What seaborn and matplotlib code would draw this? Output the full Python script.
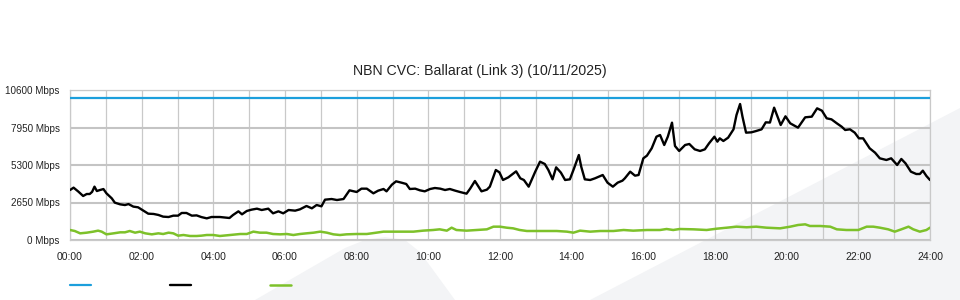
import numpy as np
import matplotlib
matplotlib.use("Agg")
import matplotlib.pyplot as plt
import seaborn as sns
from matplotlib.patches import Polygon

# ---------------- data ----------------
title = "NBN CVC: Ballarat (Link 3) (10/11/2025)"

capacity_min = [0, 1440]
capacity_mbps = [10000, 10000]

down_min = [0, 6, 14, 22, 28, 33, 37, 41, 45, 50, 56, 61, 70, 75, 84, 92, 98, 106, 114, 123,
            131, 140, 148, 156, 165, 173, 181, 187, 195, 204, 212, 220, 229, 237, 251, 267, 273,
            282, 288, 296, 304, 313, 321, 332, 340, 349, 357, 366, 377, 385, 396, 405, 413, 421,
            427, 438, 447, 458, 468, 480, 488, 497, 508, 516, 525, 530, 539, 546, 555, 563, 569,
            578, 586, 594, 603, 611, 620, 628, 636, 645, 653, 664, 670, 678, 689, 698, 703, 713,
            719, 725, 734, 747, 754, 760, 768, 779, 787, 795, 801, 808, 814, 822, 829, 837, 844,
            852, 856, 862, 871, 879, 892, 900, 909, 917, 925, 929, 938, 946, 952, 960, 966, 974,
            982, 988, 995, 1001, 1008, 1013, 1020, 1030, 1037, 1046, 1055, 1063, 1070, 1079,
            1084, 1088, 1094, 1102, 1111, 1116, 1122, 1126, 1132, 1141, 1149, 1158, 1165, 1172,
            1179, 1190, 1198, 1206, 1219, 1231, 1242, 1251, 1259, 1267, 1275, 1284, 1292, 1298,
            1306, 1314, 1321, 1328, 1339, 1348, 1356, 1367, 1375, 1385, 1392, 1399, 1408, 1417,
            1423, 1428, 1434, 1440]
down_mbps = [3530, 3700, 3420, 3110, 3250, 3250, 3400, 3770, 3460, 3530, 3600, 3300, 2940, 2640,
             2520, 2470, 2540, 2360, 2310, 2070, 1860, 1840, 1770, 1650, 1625, 1720, 1720, 1910,
             1910, 1720, 1740, 1620, 1530, 1625, 1625, 1555, 1767, 2026, 1814, 2050, 2144, 2214,
             2120, 2214, 1885, 2026, 1885, 2120, 2073, 2167, 2403, 2238, 2473, 2379, 2850, 2896,
             2826, 2896, 3510, 3392, 3628, 3628, 3298, 3486, 3604, 3439, 3910, 4146, 4052, 3958,
             3604, 3628, 3510, 3439, 3604, 3675, 3628, 3533, 3604, 3486, 3392, 3274, 3628, 4169,
             3439, 3557, 3769, 4946, 4781, 4240, 4429, 4852, 4358, 4240, 3769, 4829, 5536, 5371,
             4946, 4287, 5135, 4758, 4240, 4287, 5064, 6007, 5182, 4287, 4240, 4358, 4593, 4052,
             3769, 4052, 4193, 4358, 4829, 4546, 4593, 5772, 5960, 6478, 7302, 7420, 6714, 7302,
             8291, 6643, 6290, 6714, 6784, 6407, 6290, 6407, 6831, 7302, 6950, 7184, 6997, 7232,
             7821, 8834, 9611, 8716, 7585, 7609, 7703, 7821, 8315, 8300, 9352, 8127, 8740, 8245,
             7939, 8669, 8716, 9305, 9140, 8598, 8527, 8245, 8009, 7774, 7821, 7585, 7184, 7184,
             6478, 6172, 5772, 5654, 5772, 5300, 5725, 5418, 4829, 4664, 4664, 4899, 4523, 4240]

up_min = [0, 8, 17, 28, 39, 47, 53, 61, 73, 84, 92, 100, 109, 117, 126, 137, 148, 156, 165, 173,
          181, 190, 201, 212, 220, 229, 240, 251, 268, 285, 296, 307, 318, 329, 340, 352, 363,
          374, 385, 396, 408, 419, 430, 441, 452, 463, 480, 497, 513, 525, 541, 558, 575, 591,
          608, 619, 631, 639, 647, 664, 681, 698, 709, 720, 731, 742, 753, 765, 798, 815, 832,
          843, 854, 871, 888, 910, 927, 943, 966, 988, 999, 1010, 1021, 1044, 1066, 1083, 1100,
          1116, 1133, 1149, 1166, 1189, 1206, 1219, 1231, 1239, 1256, 1273, 1284, 1300, 1320,
          1334, 1345, 1356, 1370, 1381, 1392, 1404, 1412, 1423, 1434, 1440]
up_mbps = [707, 636, 471, 518, 590, 660, 590, 400, 471, 542, 542, 636, 518, 590, 471, 400, 471,
           424, 518, 471, 306, 353, 283, 283, 306, 353, 353, 283, 353, 424, 424, 590, 518, 518,
           424, 400, 424, 353, 424, 471, 518, 590, 518, 400, 353, 400, 424, 424, 518, 590, 590,
           590, 590, 660, 707, 754, 660, 871, 707, 660, 707, 754, 942, 942, 871, 824, 707, 636,
           636, 636, 590, 518, 660, 590, 636, 636, 707, 660, 707, 707, 777, 707, 777, 754, 707,
           800, 871, 942, 900, 942, 871, 824, 942, 1060, 1107, 990, 990, 942, 754, 707, 707, 942,
           942, 871, 754, 590, 754, 942, 754, 590, 707, 871]

y_ticks = [0, 2650, 5300, 7950, 10600]
y_tick_labels = [f"{v} Mbps" for v in y_ticks]
x_ticks = list(range(0, 1441, 120))
x_tick_labels = [f"{h:02d}:00" for h in range(0, 25, 2)]
x_minor = list(range(60, 1440, 120))

colors = {"capacity": "#1c9fdc", "down": "#000000", "up": "#7dc12a"}

# ---------------- figure ----------------
sns.set_theme(style="white")
plt.rcParams['font.family'] = ['Liberation Sans', 'DejaVu Sans']

W, H = 960, 300
fig = plt.figure(figsize=(9.6, 3.0), dpi=100)
fig.patch.set_facecolor("white")

def fp(pts):
    return [(x / W, 1 - y / H) for x, y in pts]

bg = "#f3f4f6"
for shape in ([(255, 300), (345, 248), (365, 240), (385, 237), (405, 240), (420, 252), (455, 300)],
              [(590, 300), (960, 108), (960, 300)]):
    fig.patches.append(Polygon(fp(shape), closed=True, transform=fig.transFigure,
                               facecolor=bg, edgecolor="none", zorder=-10))

ax = fig.add_axes([70 / W, 60 / H, 860 / W, 150 / H])
ax.set_facecolor("none")

sns.lineplot(x=np.array(capacity_min), y=np.array(capacity_mbps), ax=ax,
             color=colors["capacity"], lw=1.6, zorder=3)
sns.lineplot(x=np.array(down_min), y=np.array(down_mbps), ax=ax,
             color=colors["down"], lw=1.7, zorder=4)
sns.lineplot(x=np.array(up_min), y=np.array(up_mbps), ax=ax,
             color=colors["up"], lw=1.8, zorder=4)

ax.set_xlim(0, 1440)
ax.set_ylim(0, 10600)
ax.set_xlabel("")
ax.set_ylabel("")

ax.set_xticks(x_ticks)
ax.set_xticklabels(x_tick_labels)
ax.set_xticks(x_minor, minor=True)
ax.set_yticks(y_ticks)
ax.set_yticklabels(y_tick_labels)

ax.grid(True, which="both", axis="x", color="#c9c9c9", lw=0.9, zorder=0)
ax.grid(True, which="major", axis="y", color="#c4c4c4", lw=1.5, zorder=0)
ax.set_axisbelow(True)

ax.tick_params(axis="x", which="major", length=4.5, width=0.9, color="#c0c0c0",
               labelsize=7.5, labelcolor="#222222", pad=4.5)
ax.tick_params(axis="x", which="minor", length=0)
ax.tick_params(axis="y", which="both", length=0, labelsize=7.1, labelcolor="#222222", pad=7.5)
for lbl in ax.get_yticklabels():
    lbl.set_verticalalignment("center_baseline")

for s in ax.spines.values():
    s.set_visible(True)
    s.set_color("#c9c9c9")
    s.set_linewidth(0.9)

fig.text(0.5, 1 - 71 / H, title, ha="center", va="center", fontsize=10.2, color="#222222")

handles = ax.get_lines()[:3]
fig.legend(handles=handles, labels=["", "", ""], ncol=3, loc="center left",
           bbox_to_anchor=(70 / W, 1 - 285 / H), frameon=False, handlelength=2.1,
           handletextpad=0, columnspacing=7.9, borderpad=0, borderaxespad=0, fontsize=7.2)

fig.savefig("out.png", dpi=100, facecolor="white")
